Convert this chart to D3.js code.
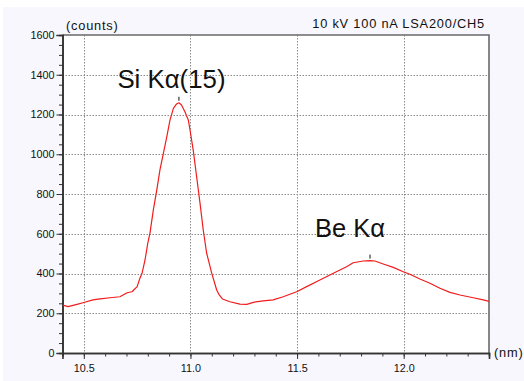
<!DOCTYPE html>
<html>
<head>
<meta charset="utf-8">
<script src="https://cdn.jsdelivr.net/npm/d3@7"></script>
<style>
  html, body { margin: 0; padding: 0; background: #ffffff; }
  svg { display: block; }
  text { font-family: "Liberation Sans", Arial, sans-serif; fill: #111; }
</style>
</head>
<body>
<svg id="chart" width="524" height="381"></svg>
<script>
// Spectrum: wavelength (nm) vs. counts
const wavelength = [
  10.402, 10.426, 10.468, 10.496, 10.543, 10.576, 10.623, 10.669, 10.703, 10.726,
  10.750, 10.763, 10.773, 10.787, 10.800, 10.810, 10.826, 10.842, 10.857, 10.873,
  10.889, 10.904, 10.920, 10.935, 10.946, 10.958, 10.974, 10.990, 10.998, 11.013,
  11.029, 11.045, 11.060, 11.076, 11.100, 11.123, 11.135, 11.150, 11.185, 11.232,
  11.264, 11.295, 11.341, 11.388, 11.435, 11.498, 11.545, 11.607, 11.670, 11.701,
  11.732, 11.763, 11.810, 11.842, 11.865, 11.904, 11.951, 11.998, 12.029, 12.076,
  12.123, 12.170, 12.217, 12.264, 12.326, 12.373, 12.404
];
const counts = [
  241, 233, 245, 253, 267, 272, 278, 283, 303, 308,
  334, 376, 401, 468, 553, 602, 720, 820, 921, 1005,
  1088, 1172, 1231, 1253, 1259, 1248, 1214, 1172, 1122, 1021,
  887, 753, 619, 502, 401, 317, 292, 272, 258, 246,
  245, 255, 262, 267, 283, 308, 334, 367, 401, 418,
  434, 454, 463, 465, 463, 448, 431, 409, 396, 372,
  351, 326, 305, 292, 278, 267, 258
];

// Peak annotations
const peakNames = ["Si Kα(15)", "Be Kα"];
const peakWavelength = [10.946, 11.842];
const peakCounts = [1259, 465];

// Axis ticks
const xMajorTicks = [10.5, 11.0, 11.5, 12.0];
const yMajorTicks = [0, 200, 400, 600, 800, 1000, 1200, 1400, 1600];

const xLabel = "(nm)";
const yLabel = "(counts)";
const title = "10 kV 100 nA LSA200/CH5";

const svg = d3.select("#chart");
const W = 524, H = 381;
const plot = { left: 62.5, right: 489, top: 35, bottom: 353 };

// outer panel
svg.append("rect").attr("x", 3).attr("y", 7).attr("width", W - 3).attr("height", H - 7)
  .attr("fill", "#f7f7fd");
svg.append("rect").attr("x", plot.left).attr("y", plot.top)
  .attr("width", plot.right - plot.left).attr("height", plot.bottom - plot.top)
  .attr("fill", "#ffffff");

const x = d3.scaleLinear().domain([10.4, 12.4]).range([plot.left, plot.right]);
const y = d3.scaleLinear().domain([0, 1600]).range([plot.bottom, plot.top]);

// grid
const grid = svg.append("g").attr("stroke", "#8a8a8a").attr("stroke-width", 1)
  .attr("stroke-dasharray", "1.5,1.5");
grid.selectAll("line.gx").data(xMajorTicks).join("line")
  .attr("x1", d => Math.round(x(d)) + 0.5).attr("x2", d => Math.round(x(d)) + 0.5)
  .attr("y1", plot.top).attr("y2", plot.bottom);
grid.selectAll("line.gy").data(yMajorTicks.filter(v => v > 0 && v < 1600)).join("line")
  .attr("y1", d => Math.round(y(d)) + 0.5).attr("y2", d => Math.round(y(d)) + 0.5)
  .attr("x1", plot.left).attr("x2", plot.right);

// frame: top and right
svg.append("path")
  .attr("d", `M${plot.left},${plot.top} H${plot.right} V${plot.bottom}`)
  .attr("fill", "none").attr("stroke", "#6a6a6a").attr("stroke-width", 1.6);

// x axis
const xMinor = d3.range(104, 125).map(v => v / 10);
const xAxis = d3.axisBottom(x).tickValues(xMinor).tickSize(3.5).tickFormat("");
const gxMinor = svg.append("g").attr("transform", `translate(0,${plot.bottom})`).call(xAxis);
const gx = svg.append("g").attr("transform", `translate(0,${plot.bottom})`)
  .call(d3.axisBottom(x).tickValues(xMajorTicks).tickSize(6).tickPadding(2)
    .tickFormat(d3.format(".1f")));

// y axis
const yMinor = d3.range(0, 1601, 50);
const gyMinor = svg.append("g").attr("transform", `translate(${plot.left},0)`)
  .call(d3.axisLeft(y).tickValues(yMinor).tickSize(3.5).tickFormat(""));
const gy = svg.append("g").attr("transform", `translate(${plot.left},0)`)
  .call(d3.axisLeft(y).tickValues(yMajorTicks).tickSize(6).tickPadding(2)
    .tickFormat(d3.format("d")));

[gxMinor, gx, gyMinor, gy].forEach(g => {
  g.select(".domain").attr("stroke", "#333").attr("stroke-width", 1.6);
  g.selectAll(".tick line").attr("stroke", "#333").attr("stroke-width", 1);
  g.selectAll("text").attr("font-family", "Liberation Sans, Arial, sans-serif")
    .attr("font-size", 10.8).attr("fill", "#111");
});
gx.selectAll("text").attr("dy", "1.05em");

// axis unit labels and title
svg.append("text").attr("x", 66).attr("y", 29.5).text(yLabel)
  .attr("font-size", 12.8).attr("letter-spacing", 0.8);
svg.append("text").attr("x", 494).attr("y", plot.bottom + 4).text(xLabel)
  .attr("font-size", 12.8).attr("letter-spacing", 0.8);
svg.append("text").attr("x", 485).attr("y", 28).attr("text-anchor", "end").text(title)
  .attr("font-size", 12.8).attr("letter-spacing", 0.8);

// spectrum
const pts = wavelength.map((w, i) => [w, counts[i]]);
svg.append("defs").append("clipPath").attr("id", "clip")
  .append("rect").attr("x", plot.left).attr("y", plot.top)
  .attr("width", plot.right - plot.left).attr("height", plot.bottom - plot.top);
svg.append("path").datum(pts)
  .attr("clip-path", "url(#clip)")
  .attr("fill", "none").attr("stroke", "#f21c1c").attr("stroke-width", 1.2)
  .attr("stroke-linejoin", "round")
  .attr("d", d3.line().x(d => x(d[0])).y(d => y(d[1])));

// peak markers and names
const labelOffset = [{ dx: -7.5, dy: -15, size: 25.8 }, { dx: -20, dy: -24, size: 25.5 }];
peakNames.forEach((name, i) => {
  const px = x(peakWavelength[i]), py = y(peakCounts[i]);
  svg.append("line").attr("x1", px).attr("x2", px).attr("y1", py - 6).attr("y2", py - 2)
    .attr("stroke", "#111").attr("stroke-width", 1);
  svg.append("text").attr("x", px + labelOffset[i].dx).attr("y", py + labelOffset[i].dy)
    .attr("text-anchor", "middle").attr("font-family", "Noto Sans CJK JP, sans-serif")
    .attr("font-size", labelOffset[i].size).attr("fill", "#111").text(name);
});
</script>
</body>
</html>
